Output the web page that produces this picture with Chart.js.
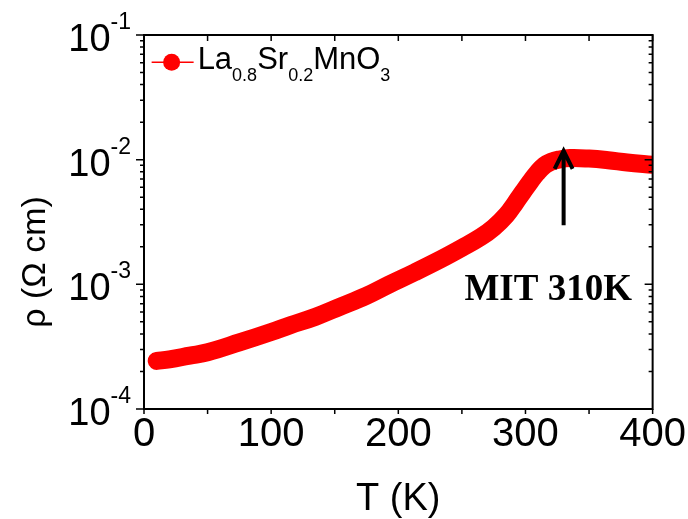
<!DOCTYPE html>
<html lang="en">
<head>
    <meta charset="UTF-8">
    <title>La0.8Sr0.2MnO3 resistivity</title>
    <script src="https://cdn.jsdelivr.net/npm/chart.js"></script>
    <style>
        body { margin: 0; background: #fff; }
        #wrap { width: 688px; height: 519px; }
    </style>
</head>
<body>
    <div id="wrap">
        <canvas id="myChart"></canvas>
    </div>

    <script>
        // temperature (K) and resistivity (Ohm cm)
        const temps = [10, 20, 36, 50, 75, 100, 115, 135, 154, 175, 193, 213, 233, 250, 265, 275, 285, 292, 298, 304, 309, 315, 320, 326, 335, 350, 365, 380, 400];
        const rho = [2.43e-4, 2.5e-4, 2.68e-4, 2.85e-4, 3.42e-4, 4.15e-4, 4.7e-4, 5.5e-4, 6.6e-4, 8.1e-4, 1.0e-3, 1.25e-3, 1.58e-3, 1.96e-3, 2.4e-3, 2.85e-3, 3.6e-3, 4.5e-3, 5.5e-3, 6.7e-3, 7.8e-3, 9.0e-3, 9.6e-3, 1.0e-2, 1.03e-2, 1.02e-2, 9.9e-3, 9.5e-3, 9.1e-3];
        const xTicks = [0, 100, 200, 300, 400];
        const yDecades = [-4, -3, -2, -1];
        const arrowT = 330, arrowFrom = 2.98e-3, arrowTo = 1.2e-2;
        const note = 'MIT 310K';

        const sans = '"Liberation Sans", Arial, sans-serif';

        const frame = {
            id: 'frame',
            afterDraw(chart) {
                const { ctx, chartArea: a, scales: { x, y } } = chart;
                ctx.save();
                ctx.strokeStyle = '#000';
                ctx.lineWidth = 2;
                ctx.strokeRect(a.left, a.top, a.right - a.left, a.bottom - a.top);

                // ticks: bottom/left outward, top/right inward
                ctx.lineWidth = 1.5;
                ctx.beginPath();
                for (let t = 0; t <= 400; t += 50) {
                    const px = x.getPixelForValue(t);
                    ctx.moveTo(px, a.bottom); ctx.lineTo(px, a.bottom + 5);
                    ctx.moveTo(px, a.top); ctx.lineTo(px, a.top + 6);
                }
                yDecades.forEach(d => {
                    for (let m = 1; m <= 9; m++) {
                        if (d === -1 && m > 1) break;
                        const py = y.getPixelForValue(m * Math.pow(10, d));
                        const len = m === 1 ? 8 : 4;
                        ctx.moveTo(a.left - len, py); ctx.lineTo(a.left, py);
                        ctx.moveTo(a.right, py); ctx.lineTo(a.right - len, py);
                    }
                });
                ctx.stroke();

                // y tick labels 10^n
                ctx.fillStyle = '#000';
                yDecades.forEach(d => {
                    const py = y.getPixelForValue(Math.pow(10, d));
                    ctx.font = '23px ' + sans;
                    const sup = String(d);
                    const sw = ctx.measureText(sup).width;
                    ctx.textAlign = 'right';
                    ctx.textBaseline = 'alphabetic';
                    ctx.fillText(sup, a.left - 13, py - 6);
                    ctx.font = '38px ' + sans;
                    ctx.fillText('10', a.left - 13 - sw, py + 16);
                });

                // y title
                ctx.save();
                ctx.translate(36, 262);
                ctx.rotate(-Math.PI / 2);
                ctx.font = '34px ' + sans;
                ctx.textAlign = 'center';
                ctx.textBaseline = 'middle';
                ctx.fillText('\u03C1 (\u03A9 cm)', 0, 0);
                ctx.restore();

                // arrow
                const ax = x.getPixelForValue(arrowT);
                const y0 = y.getPixelForValue(arrowFrom);
                const y1 = y.getPixelForValue(arrowTo);
                ctx.lineWidth = 4;
                ctx.lineCap = 'butt';
                ctx.beginPath();
                ctx.moveTo(ax, y0); ctx.lineTo(ax, y1 + 2);
                ctx.moveTo(ax - 9, y1 + 19); ctx.lineTo(ax, y1 + 1); ctx.lineTo(ax + 9, y1 + 19);
                ctx.stroke();

                // annotation
                ctx.font = 'bold 37px "Liberation Serif", "Times New Roman", serif';
                ctx.textAlign = 'left';
                ctx.textBaseline = 'alphabetic';
                ctx.fillText(note, x.getPixelForValue(252), y.getPixelForValue(7.44e-4));

                // legend with subscripts
                const lx = x.getPixelForValue(6), ly = y.getPixelForValue(0.0605);
                ctx.strokeStyle = '#ff0000';
                ctx.lineWidth = 1.5;
                ctx.beginPath();
                ctx.moveTo(lx, ly); ctx.lineTo(lx + 42, ly);
                ctx.stroke();
                ctx.fillStyle = '#ff0000';
                ctx.beginPath();
                ctx.arc(lx + 20, ly, 8.5, 0, Math.PI * 2);
                ctx.fill();
                ctx.fillStyle = '#000';
                const parts = [['La', 0], ['0.8', 1], ['Sr', 0], ['0.2', 1], ['MnO', 0], ['3', 1]];
                let tx = lx + 46;
                const base = ly + 7;
                parts.forEach(([s, sub]) => {
                    ctx.font = (sub ? '18px ' : '31px ') + sans;
                    ctx.fillText(s, tx, sub ? base + 12 : base);
                    tx += ctx.measureText(s).width;
                });
                ctx.restore();
            }
        };

        const config = {
            type: 'line',
            data: {
                datasets: [{
                    label: 'La0.8Sr0.2MnO3',
                    data: temps.map((t, i) => ({ x: t, y: rho[i] })),
                    borderColor: '#ff0000',
                    backgroundColor: '#ff0000',
                    borderWidth: 18,
                    borderCapStyle: 'round',
                    borderJoinStyle: 'round',
                    tension: 0.4,
                    pointRadius: 0
                }]
            },
            options: {
                responsive: true,
                maintainAspectRatio: false,
                animation: false,
                layout: { padding: { top: 35, right: 35, left: 0, bottom: 0 } },
                plugins: {
                    legend: { display: false },
                    tooltip: { enabled: false }
                },
                scales: {
                    x: {
                        type: 'linear',
                        min: 0,
                        max: 400,
                        afterBuildTicks: s => { s.ticks = xTicks.map(v => ({ value: v })); },
                        afterFit: s => { s.height = 110; },
                        grid: { display: false, drawTicks: false },
                        border: { display: false },
                        ticks: {
                            color: '#000',
                            padding: 2,
                            maxRotation: 0,
                            font: { family: sans, size: 40 }
                        },
                        title: {
                            display: true,
                            text: 'T (K)',
                            color: '#000',
                            padding: { top: 0, bottom: 0 },
                            font: { family: sans, size: 38, lineHeight: 1 }
                        }
                    },
                    y: {
                        type: 'logarithmic',
                        min: 1e-4,
                        max: 1e-1,
                        afterFit: s => { s.width = 144; },
                        grid: { display: false, drawTicks: false },
                        border: { display: false },
                        ticks: { display: false }
                    }
                }
            },
            plugins: [frame]
        };

        new Chart(document.getElementById('myChart'), config);
    </script>
</body>
</html>
